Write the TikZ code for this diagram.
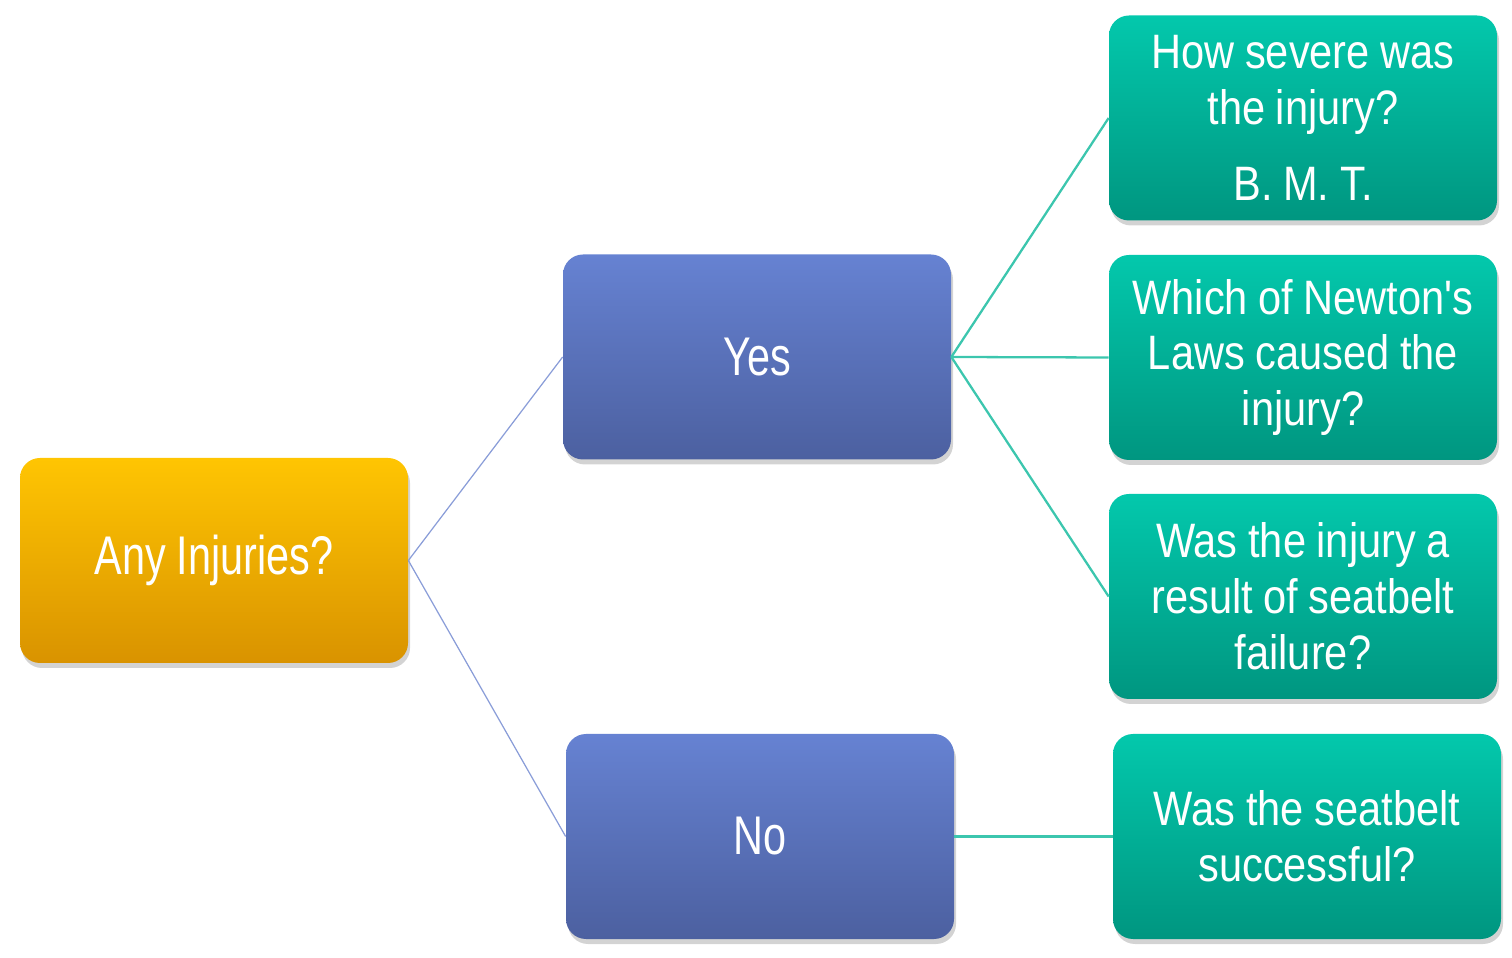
\documentclass[tikz,border=0pt]{standalone}
\usepackage{fontspec}
\setmainfont{Liberation Sans}[FakeStretch=0.76]
\newfontfamily\qfont{Liberation Sans}[FakeStretch=0.86]
\usetikzlibrary{shadows}

\definecolor{yeltop}{HTML}{FFC502}
\definecolor{yelbot}{HTML}{D99300}
\definecolor{blutop}{HTML}{6682D2}
\definecolor{blubot}{HTML}{4C60A0}
\definecolor{teatop}{HTML}{03C8AC}
\definecolor{teabot}{HTML}{009680}
\definecolor{bluline}{HTML}{8A9DD8}
\definecolor{tealine}{HTML}{3CC6AE}

\tikzset{
  box/.style={rounded corners=0.4cm, minimum width=7.76cm, minimum height=4.1cm,
    text=white, align=center, text width=7.4cm,
    drop shadow={opacity=0.35, shadow xshift=0.04cm, shadow yshift=-0.1cm}},
  yelbox/.style={box, top color=yeltop, bottom color=yelbot,
    font=\fontsize{31}{33}\selectfont,
    execute at begin node={\spaceskip=0.2em\relax}},
  blubox/.style={box, top color=blutop, bottom color=blubot,
    font=\fontsize{31}{33}\selectfont,
    execute at begin node={\spaceskip=0.2em\relax}},
  teabox/.style={box, top color=teatop, bottom color=teabot,
    font=\qfont\fontsize{27.5}{31.8}\selectfont,
    execute at begin node={\spaceskip=0.22em\relax}},
}

\begin{document}
\begin{tikzpicture}

\useasboundingbox (0,0) rectangle (30.24,19.16);

\node[yelbox] (inj) at (4.28,7.95) {Any Injuries?};
\node[blubox] (yes) at (15.14,12.02) {Yes};
\node[blubox] (no) at (15.2,2.43) {No};

\node[teabox] (sev) at (26.06,16.8) {How severe was\\the injury?\\[0.42cm]B. M. T.};
\node[teabox] (law) at (26.06,12.01) {Which of Newton's\\Laws caused the\\injury?};
\node[teabox] (belt) at (26.06,7.23) {Was the injury a\\result of seatbelt\\failure?};
\node[teabox] (succ) at (26.14,2.43) {Was the seatbelt\\successful?};

\draw[bluline,line width=0.7pt] (inj.east)--(yes.west);
\draw[bluline,line width=0.7pt] (inj.east)--(no.west);

\draw[tealine,line width=1.3pt] (yes.east)--(sev.west);
\draw[tealine,line width=1.3pt] (yes.east)--(law.west);
\draw[tealine,line width=1.3pt] (yes.east)--(belt.west);
\draw[tealine,line width=1.3pt] (no.east)--(succ.west);

\end{tikzpicture}
\end{document}
